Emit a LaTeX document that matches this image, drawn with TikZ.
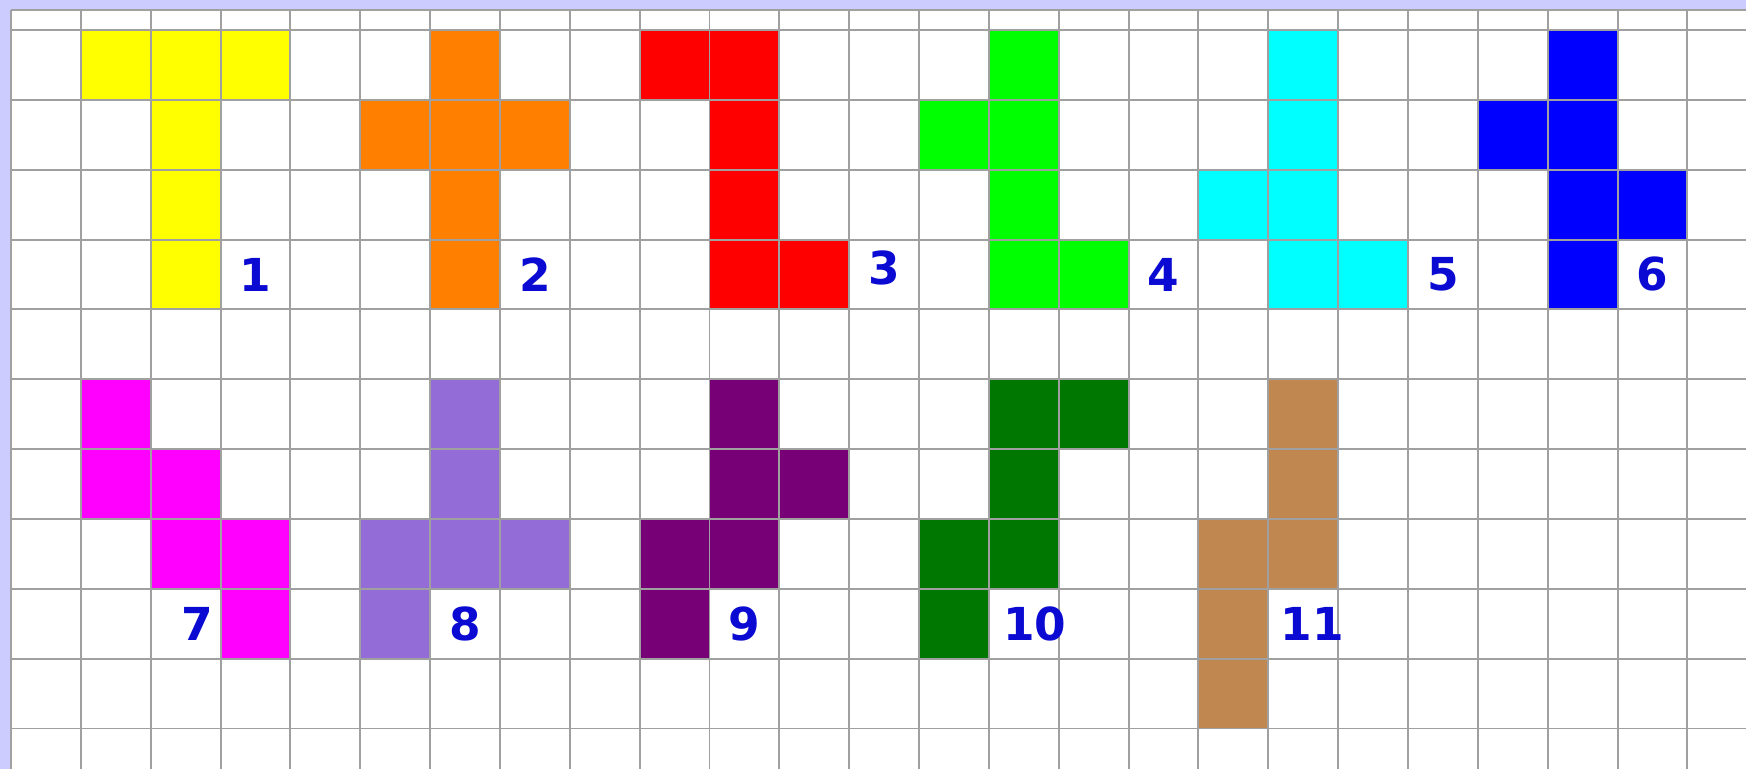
\documentclass[tikz,border=0pt]{standalone}
\usepackage{fontspec}
\newfontfamily\labfont{DejaVu Sans}
\definecolor{lav}{RGB}{204,204,255}
\definecolor{gridc}{RGB}{160,160,160}
\definecolor{cYellow}{RGB}{255,255,0}
\definecolor{cOrange}{RGB}{255,128,0}
\definecolor{cRed}{RGB}{255,0,0}
\definecolor{cLime}{RGB}{0,255,0}
\definecolor{cCyan}{RGB}{0,255,255}
\definecolor{cBlue}{RGB}{0,0,255}
\definecolor{cMag}{RGB}{255,0,255}
\definecolor{cMPurple}{RGB}{147,108,216}
\definecolor{cPurple}{RGB}{119,0,119}
\definecolor{cDGreen}{RGB}{0,119,0}
\definecolor{cBrown}{RGB}{192,136,80}
\definecolor{labc}{RGB}{10,10,210}
\tikzset{
  gridline/.style={draw=gridc, line width=0.8pt},
  numlab/.style={text=labc, font=\labfont\bfseries\fontsize{18.5}{20}\selectfont, inner sep=0pt}
}
\newcommand{\cellfill}[3]{\fill[#1] (0.1575+#2,-0.4295-#3) rectangle ++(1,-1);}
\newcommand{\cellpos}[2]{(0.6575+#1,-0.9295-#2)}
\begin{document}
\begin{tikzpicture}[x=1cm,y=1cm]
\useasboundingbox (0,0) rectangle (24.997,-11.009);
\fill[lav] (0,0) rectangle (24.997,-11.009);
\fill[white] (0.1575,-0.143) rectangle (24.997,-11.009);
% shapes
\foreach \c/\r in {1/0,2/0,3/0,2/1,2/2,2/3} {\cellfill{cYellow}{\c}{\r}}
\foreach \c/\r in {6/0,5/1,6/1,7/1,6/2,6/3} {\cellfill{cOrange}{\c}{\r}}
\foreach \c/\r in {9/0,10/0,10/1,10/2,10/3,11/3} {\cellfill{cRed}{\c}{\r}}
\foreach \c/\r in {14/0,13/1,14/1,14/2,14/3,15/3} {\cellfill{cLime}{\c}{\r}}
\foreach \c/\r in {18/0,18/1,17/2,18/2,18/3,19/3} {\cellfill{cCyan}{\c}{\r}}
\foreach \c/\r in {22/0,21/1,22/1,22/2,23/2,22/3} {\cellfill{cBlue}{\c}{\r}}
\foreach \c/\r in {1/5,1/6,2/6,2/7,3/7,3/8} {\cellfill{cMag}{\c}{\r}}
\foreach \c/\r in {6/5,6/6,5/7,6/7,7/7,5/8} {\cellfill{cMPurple}{\c}{\r}}
\foreach \c/\r in {10/5,10/6,11/6,9/7,10/7,9/8} {\cellfill{cPurple}{\c}{\r}}
\foreach \c/\r in {14/5,15/5,14/6,13/7,14/7,13/8} {\cellfill{cDGreen}{\c}{\r}}
\foreach \c/\r in {18/5,18/6,17/7,18/7,17/8,17/9} {\cellfill{cBrown}{\c}{\r}}
% grid
\foreach \c in {0,...,24} {\draw[gridline] (0.1575+\c,-0.143) -- (0.1575+\c,-11.009);}
\draw[gridline] (0.1575,-0.143) -- (24.997,-0.143);
\foreach \r in {0,...,10} {\draw[gridline] (0.1575,-0.4295-\r) -- (24.997,-0.4295-\r);}
% labels
\node[numlab] (l1) at \cellpos{3}{3} {1};
\node[numlab] (l2) at \cellpos{7}{3} {2};
\node[numlab, yshift=0.1cm] (l3) at \cellpos{12}{3} {3};
\node[numlab] (l4) at \cellpos{16}{3} {4};
\node[numlab] (l5) at \cellpos{20}{3} {5};
\node[numlab] (l6) at \cellpos{23}{3} {6};
\node[numlab, xshift=0.17cm] (l7) at \cellpos{2}{8} {7};
\node[numlab] (l8) at \cellpos{6}{8} {8};
\node[numlab] (l9) at \cellpos{10}{8} {9};
\node[numlab, xshift=0.16cm] (l10) at \cellpos{14}{8} {10};
\node[numlab, xshift=0.13cm] (l11) at \cellpos{18}{8} {11};
\end{tikzpicture}
\end{document}
